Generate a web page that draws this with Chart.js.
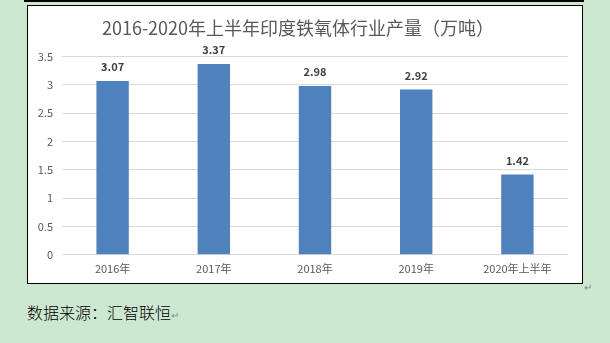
<!DOCTYPE html>
<html>
<head>
<meta charset="utf-8">
<script src="https://cdn.jsdelivr.net/npm/chart.js@4/dist/chart.umd.min.js"></script>
<style>
  html, body { margin: 0; padding: 0; }
  body { width: 610px; height: 343px; background: #cde8d0; position: relative; overflow: hidden;
         font-family: "Noto Sans CJK SC", sans-serif; }
  #topline { position: absolute; left: 24px; top: 0; width: 560px; height: 2px; background: #000; }
  #box { position: absolute; left: 27px; top: 5px; width: 554px; height: 277px; background: #fff; border: 1px solid #000; }
  #box canvas { position: absolute; left: 0; top: 0; }
  #src { position: absolute; left: 27px; top: 300px; font-size: 16px; color: #000; font-weight: 300; }
  .ret { font-size: 10px; color: #888; }
  #ret2 { position: absolute; left: 584px; top: 279px; font-size: 10px; color: #888; }
</style>
</head>
<body>
<div id="topline"></div>
<div id="box"><canvas id="c" width="554" height="277"></canvas></div>
<div id="ret2">↵</div>
<div id="src">数据来源：汇智联恒<span class="ret">↵</span></div>
<script>
const categories = ["2016年", "2017年", "2018年", "2019年", "2020年上半年"];
const production = [3.07, 3.37, 2.98, 2.92, 1.42];
const yTicks = [0, 0.5, 1, 1.5, 2, 2.5, 3, 3.5];
const titleText = "2016-2020年上半年印度铁氧体行业产量（万吨）";

const FONT = '"Noto Sans CJK SC", sans-serif';

const labelPlugin = {
  id: 'valueLabels',
  afterDatasetsDraw(chart) {
    const ctx = chart.ctx;
    const meta = chart.getDatasetMeta(0);
    ctx.save();
    ctx.font = 'bold 11px ' + FONT;
    ctx.fillStyle = '#404040';
    ctx.textAlign = 'center';
    ctx.textBaseline = 'middle';
    meta.data.forEach((bar, i) => {
      ctx.fillText(production[i].toFixed(2), bar.x, bar.y - 14);
    });
    ctx.restore();
  }
};

new Chart(document.getElementById('c'), {
  type: 'bar',
  data: {
    labels: categories,
    datasets: [{
      data: production,
      backgroundColor: '#4f81bd',
      categoryPercentage: 1,
      barPercentage: 0.32
    }]
  },
  options: {
    responsive: false,
    animation: false,
    layout: { padding: { left: 0, right: 14, top: 0, bottom: 1 } },
    plugins: {
      legend: { display: false },
      tooltip: { enabled: false },
      title: {
        display: true,
        text: titleText,
        color: '#595959',
        font: { family: FONT, size: 18, weight: 'normal' },
        padding: { top: 11, bottom: 18 }
      }
    },
    scales: {
      x: {
        grid: { display: false, drawTicks: false },
        border: { display: false },
        ticks: { color: '#595959', font: { family: FONT, size: 11 }, padding: 7, maxRotation: 0 }
      },
      y: {
        min: 0, max: 3.5,
        afterBuildTicks(axis) { axis.ticks = yTicks.map(v => ({ value: v })); },
        afterFit(axis) { axis.width = 34; },
        grid: { color: '#d9d9d9', drawTicks: false, lineWidth: 1 },
        border: { display: false },
        ticks: { color: '#595959', font: { family: FONT, size: 11 }, padding: 9,
                 callback: v => String(v) }
      }
    }
  },
  plugins: [labelPlugin]
});
</script>
</body>
</html>
